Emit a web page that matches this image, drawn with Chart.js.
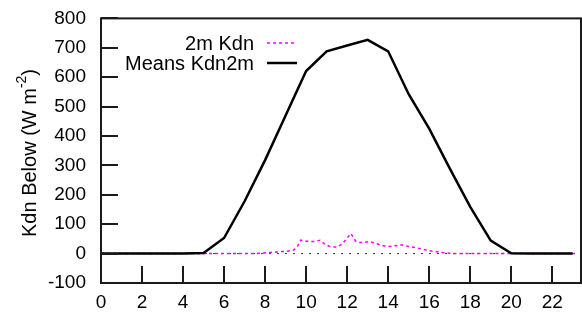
<!DOCTYPE html>
<html><head><meta charset="utf-8">
<script src="https://cdn.jsdelivr.net/npm/chart.js@4/dist/chart.umd.min.js"></script>
<style>html,body{margin:0;padding:0;background:#fff}#wrap{width:582px;height:315px;position:relative}</style>
</head><body><div id="wrap"><canvas id="c" width="582" height="315"></canvas></div>
<script>
// ---- data ----
const hours = [0,1,2,3,4,5,6,7,8,9,10,11,12,13,14,15,16,17,18,19,20,21,22,23];
const meansKdn2m = [0,0,0,0,0,2,53,178,318,470,621,688,708,727,688,542,425,290,159,44,1,0,0,0];
const kdnTimes = [0,5,7.5,7.9,8.25,8.5,8.77,9.1,9.4,9.6,9.74,10.03,10.36,10.68,10.93,11.2,11.5,11.75,11.95,12.18,12.42,12.6,12.83,13.1,13.42,13.72,14.03,14.35,14.67,15.0,15.3,15.6,15.97,16.3,16.6,16.9,17.2,23.1];
const kdnValues = [0,0,0,2,4,5,7,8,12,27,46,42,41,45,31,23,22,32,49,68,42,38,38,41,34,27,24,27,30,24,21,16,10,7,4,2,0,0];
const zeroLineX = [0, 23.4];
const zeroLineY = [0, 0];
const xTicks = [0,2,4,6,8,10,12,14,16,18,20,22];
const yTicks = [-100,0,100,200,300,400,500,600,700,800];
const seriesLabels = ['2m Kdn', 'Means Kdn2m'];
const yTitle = 'Kdn Below (W m';
const yTitleSup = '-2';

const FONT = 'Liberation Sans, Arial, Helvetica, sans-serif';

const frameAndTicks = {
  id: 'frameAndTicks',
  afterDatasetsDraw(chart) {
    const ctx = chart.ctx, a = chart.chartArea;
    const xs = chart.scales.x, ys = chart.scales.y;
    ctx.save();
    ctx.strokeStyle = '#1a1a1a';
    ctx.lineWidth = 2;
    ctx.strokeRect(a.left, a.top, a.right - a.left, a.bottom - a.top);
    ctx.beginPath();
    xTicks.forEach(v => { const px = Math.round(xs.getPixelForValue(v)); ctx.moveTo(px, a.bottom); ctx.lineTo(px, a.bottom - 17); });
    yTicks.forEach(v => { const py = Math.round(ys.getPixelForValue(v)); ctx.moveTo(a.left, py); ctx.lineTo(a.left + 17, py); });
    ctx.stroke();
    ctx.restore();
  },
  afterDraw(chart) {
    const ctx = chart.ctx;
    ctx.save();
    // legend
    ctx.font = '20px ' + FONT;
    ctx.fillStyle = '#000';
    ctx.textAlign = 'right';
    ctx.textBaseline = 'alphabetic';
    ctx.fillText(seriesLabels[0], 254, 50);
    ctx.fillText(seriesLabels[1], 254, 70);
    ctx.lineWidth = 1.5;
    ctx.strokeStyle = '#ff00ff';
    ctx.setLineDash([3, 3]);
    ctx.beginPath(); ctx.moveTo(267, 43); ctx.lineTo(297, 43); ctx.stroke();
    ctx.setLineDash([]);
    ctx.lineWidth = 2.5;
    ctx.strokeStyle = '#000';
    ctx.beginPath(); ctx.moveTo(267, 63); ctx.lineTo(297, 63); ctx.stroke();
    // y title
    ctx.translate(36, 153);
    ctx.rotate(-Math.PI / 2);
    ctx.textAlign = 'left';
    ctx.textBaseline = 'alphabetic';
    ctx.font = '20px ' + FONT;
    const w1 = ctx.measureText(yTitle).width;
    ctx.font = '14px ' + FONT;
    const w2 = ctx.measureText(yTitleSup).width;
    ctx.font = '20px ' + FONT;
    const w3 = ctx.measureText(')').width;
    const total = w1 + w2 + w3;
    let x0 = -total / 2;
    ctx.fillText(yTitle, x0, 0);
    ctx.font = '14px ' + FONT;
    ctx.fillText(yTitleSup, x0 + w1, -10);
    ctx.font = '20px ' + FONT;
    ctx.fillText(')', x0 + w1 + w2, 0);
    ctx.restore();
  }
};

new Chart(document.getElementById('c'), {
  type: 'line',
  data: {
    datasets: [
      { label: seriesLabels[1], data: hours.map((h, i) => ({x: h, y: meansKdn2m[i]})),
        borderColor: '#000', borderWidth: 2.5, pointRadius: 0, tension: 0, order: 0 },
      { label: seriesLabels[0], data: kdnTimes.map((h, i) => ({x: h, y: kdnValues[i]})),
        borderColor: '#ff00ff', borderWidth: 1.5, borderDash: [3, 3], pointRadius: 0, tension: 0, order: 1 },
      { label: 'zero', data: zeroLineX.map((h, i) => ({x: h, y: zeroLineY[i]})),
        borderColor: '#333', borderWidth: 1, borderDash: [2, 6], pointRadius: 0, order: 2 }
    ]
  },
  options: {
    responsive: false,
    animation: false,
    devicePixelRatio: 1,
    layout: { padding: { top: 15, right: 1, bottom: 0, left: 0 } },
    plugins: { legend: { display: false }, tooltip: { enabled: false } },
    scales: {
      x: {
        type: 'linear', min: 0, max: 23.4,
        afterBuildTicks: s => { s.ticks = xTicks.map(v => ({value: v})); },
        afterFit: s => { s.height = 32; },
        ticks: { font: { family: FONT, size: 19 }, color: '#000', padding: 0, maxRotation: 0, autoSkip: false },
        grid: { display: false }, border: { display: false }
      },
      y: {
        type: 'linear', min: -100, max: 800,
        afterBuildTicks: s => { s.ticks = yTicks.map(v => ({value: v})); },
        afterFit: s => { s.width = 101; },
        ticks: { font: { family: FONT, size: 19 }, color: '#000', padding: 7, autoSkip: false },
        grid: { display: false }, border: { display: false }
      }
    }
  },
  plugins: [frameAndTicks]
});
</script>
</body></html>
